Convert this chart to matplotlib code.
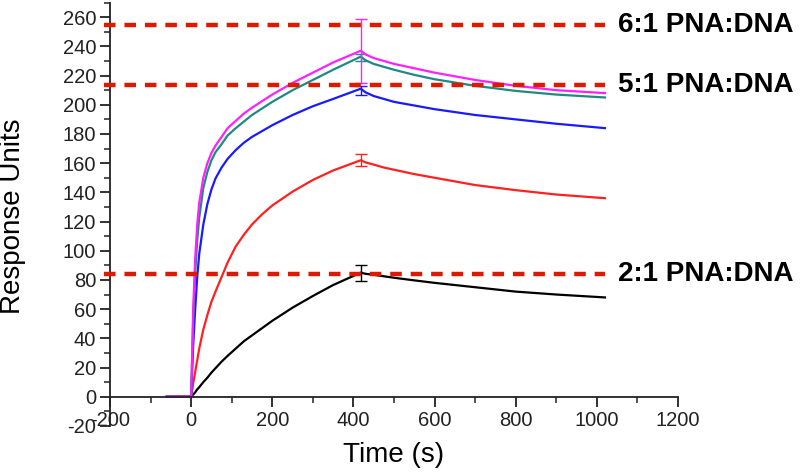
import numpy as np
import matplotlib
matplotlib.use("Agg")
import matplotlib.pyplot as plt
from matplotlib.ticker import MultipleLocator

plt.rcParams['font.family'] = ['Liberation Sans', 'DejaVu Sans']
plt.rcParams['axes.unicode_minus'] = False

# time points (s)
time = [-60, 0, 5, 10, 15, 20, 30, 40, 50, 60, 75, 90, 110, 130, 150, 175,
        200, 250, 300, 350, 418, 430, 450, 475, 500, 550, 600, 700, 800,
        900, 1020]

black = [0, 0, 1.5, 3, 5, 6.5, 10, 13, 16.5, 19.5, 24, 28, 33, 38, 42, 47,
         52, 61, 69, 76.5, 85, 84.2, 83.5, 82.5, 81.5, 79.7, 78, 75, 72,
         70, 68]
red = [0, 0, 9, 17, 25, 33, 46, 56, 65, 72, 82, 92, 103, 111, 118, 125,
       131, 140.5, 148.5, 155, 162, 160.5, 159, 157, 155.5, 152.5, 150, 145,
       141.5, 138.5, 136]
blue = [0, 0, 35, 60, 82, 98, 118, 132, 142, 149.5, 157, 163, 169, 174, 178,
        182, 186, 193, 199, 204, 211, 208.5, 206, 204, 202, 199.5, 197, 193,
        190, 187, 184]
teal = [0, 0, 52, 85, 107, 123, 143, 154, 162, 167.5, 173, 179, 184, 188.5,
        193, 197.5, 202, 210, 217, 224, 233, 230.5, 228, 226, 224, 220.5,
        217.5, 213, 209.5, 207, 205]
magenta = [0, 0, 60, 95, 118, 133, 150, 160, 167, 172, 178, 184, 189, 194,
           198, 202.5, 207, 215, 222, 229, 237, 234.5, 232, 230, 228, 225,
           222, 217, 213, 210, 208]

series = [black, red, blue, teal, magenta]
colors = ['black', '#ff2020', '#1a1aff', '#1f8a82', '#ff20ff']

# error bars at the end of injection (lower, upper)
err_t = 418
err_lo = [6, 4, 4, 3, 22]
err_hi = [5.5, 4, 2, 2, 22]

# ratio levels
levels = [254.5, 213.5, 84]
level_labels = ['6:1 PNA:DNA', '5:1 PNA:DNA', '2:1 PNA:DNA']

fig = plt.figure(figsize=(8, 4.74), dpi=100)
ax = fig.add_axes([0.1375, 0.1015, 0.71, 0.893])

for y, c, lo, hi in zip(series, colors, err_lo, err_hi):
    ax.plot(time, y, color=c, linewidth=1.6)
    yp = y[time.index(err_t)]
    ax.errorbar([err_t], [yp], yerr=[[lo], [hi]], color=c, linewidth=1,
                capsize=4, capthick=1, fmt='none')

for y, lab in zip(levels, level_labels):
    ax.hlines(y, -215, 1020, colors='#dd1a00', linestyles=(0, (2.6, 2.0)),
              linewidth=3.2, clip_on=False, zorder=5)
    ax.text(1052, y, lab, va='center', ha='left', fontsize=20,
            fontweight='bold', clip_on=False)

ax.set_xlim(-200, 1200)
ax.set_ylim(-20, 270)
ax.spines['top'].set_visible(False)
ax.spines['right'].set_visible(False)
ax.spines['bottom'].set_position(('data', 0))
for s in ['left', 'bottom']:
    ax.spines[s].set_linewidth(1.3)
    ax.spines[s].set_color('#222222')

ax.xaxis.set_major_locator(MultipleLocator(200))
ax.xaxis.set_minor_locator(MultipleLocator(100))
ax.yaxis.set_major_locator(MultipleLocator(20))
ax.yaxis.set_minor_locator(MultipleLocator(10))
ax.tick_params(which='major', direction='out', length=7, width=1.3,
               labelsize=14.5, colors='#222222', pad=3)
ax.tick_params(which='minor', direction='out', length=4, width=1.1,
               colors='#222222')

ax.set_xlabel('Time (s)', fontsize=20, va='center')
ax.xaxis.set_label_coords(0.5, -0.068)
ax.set_ylabel('Response Units', fontsize=20, va='center')
ax.yaxis.set_label_coords(-0.171, 0.496)

fig.savefig('out.png', dpi=100)
